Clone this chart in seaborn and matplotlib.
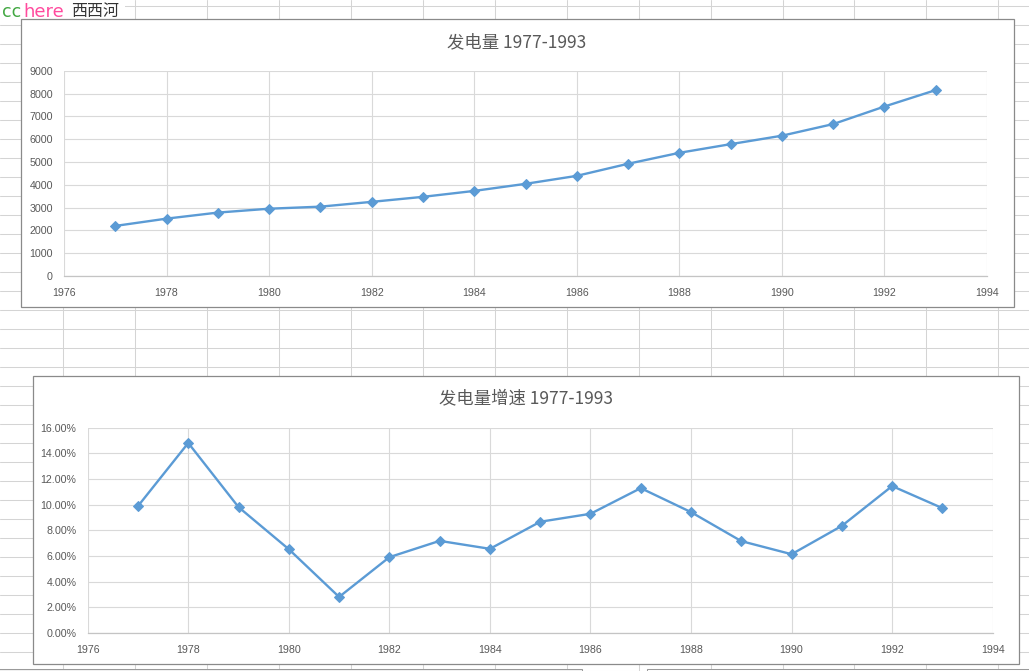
import matplotlib
matplotlib.use("Agg")
import matplotlib.pyplot as plt
import seaborn as sns
import pandas as pd
import numpy as np
from matplotlib.lines import Line2D
from matplotlib.patches import Rectangle
from matplotlib.ticker import FuncFormatter, MultipleLocator

# ---------------- data ----------------
years = [1977, 1978, 1979, 1980, 1981, 1982, 1983, 1984, 1985,
         1986, 1987, 1988, 1989, 1990, 1991, 1992, 1993]
output = [2195, 2515, 2780, 2950, 3040, 3250, 3470, 3730, 4040,
          4390, 4920, 5400, 5780, 6150, 6660, 7430, 8150]
growth = [0.0989, 0.1481, 0.0981, 0.0653, 0.0281, 0.0591, 0.0718, 0.0656, 0.0867,
          0.0929, 0.1129, 0.0942, 0.0716, 0.0614, 0.0835, 0.1145, 0.0973]
title1 = "发电量 1977-1993"
title2 = "发电量增速 1977-1993"
x_ticks = [1976, 1978, 1980, 1982, 1984, 1986, 1988, 1990, 1992, 1994]
header = ["cc", "here", "西西河"]

df1 = pd.DataFrame({"year": years, "value": output})
df2 = pd.DataFrame({"year": years, "value": growth})

sns.set_theme(style="white")
plt.rcParams["font.family"] = ["Liberation Sans", "Noto Sans CJK SC", "DejaVu Sans"]

W, H = 1029, 671
fig = plt.figure(figsize=(W / 100, H / 100), dpi=100)
fig.patch.set_facecolor("white")


def fx(px):
    return px / W


def fy(py):
    return 1 - py / H


# ---------------- spreadsheet background ----------------
cell_col = "#d4d4d4"
for k in range(14):
    x = 63 + 71.95 * k
    fig.add_artist(Line2D([fx(x), fx(x)], [0, 1], color=cell_col, lw=0.75, zorder=0))
for k in range(36):
    y = 6 + 19 * k
    fig.add_artist(Line2D([0, 1], [fy(y), fy(y)], color=cell_col, lw=0.75, zorder=0))

# header text box
fig.add_artist(Rectangle((0, fy(19)), fx(125), fy(0) - fy(19), facecolor="white",
                         edgecolor="none", zorder=1))
fig.text(fx(2), fy(12), header[0], color="#43a843", fontsize=12.5,
         family="DejaVu Sans", va="center", ha="left", zorder=2)
fig.text(fx(23), fy(12), header[1], color="#ff4b9e", fontsize=13,
         family="DejaVu Sans", va="center", ha="left", zorder=2)
fig.text(fx(71), fy(11.5), header[2], color="#333333", fontsize=11.5,
         family="Noto Sans CJK SC", fontweight="medium", va="center", ha="left", zorder=2)

# bottom partial boxes (tops of other charts)
fig.add_artist(Rectangle((fx(-2), fy(676)), fx(584), fy(668.5) - fy(676),
                         facecolor="#f2f2f2", edgecolor="#9a9a9a", lw=0.75, zorder=1))
fig.add_artist(Rectangle((fx(647), fy(676)), fx(390), fy(668.5) - fy(676),
                         facecolor="white", edgecolor="#9a9a9a", lw=0.75, zorder=1))

# chart boxes
box_edge = "#8a8a8a"
fig.add_artist(Rectangle((fx(21), fy(307)), fx(1014 - 21), fy(19) - fy(307),
                         facecolor="white", edgecolor=box_edge, lw=0.9, zorder=1))
fig.add_artist(Rectangle((fx(33), fy(664)), fx(1019 - 33), fy(376) - fy(664),
                         facecolor="white", edgecolor=box_edge, lw=0.9, zorder=1))

line_col = "#5b9bd5"
grid_col = "#d9d9d9"
text_col = "#595959"


def style_ax(ax):
    ax.set_facecolor("none")
    ax.set_xlim(1976, 1994)
    ax.set_xticks(x_ticks)
    ax.set_xticklabels([str(t) for t in x_ticks])
    ax.grid(True, color=grid_col, lw=0.8)
    ax.set_axisbelow(True)
    for s in ["top", "right", "left"]:
        ax.spines[s].set_visible(False)
    ax.spines["bottom"].set_color("#c4c4c4")
    ax.spines["bottom"].set_linewidth(0.9)
    ax.tick_params(axis="both", length=0, labelsize=7.7, labelcolor=text_col)
    ax.tick_params(axis="x", pad=8.5)
    ax.tick_params(axis="y", pad=8)
    ax.set_xlabel("")
    ax.set_ylabel("")


# ---------------- chart 1 ----------------
ax1 = fig.add_axes([fx(64), fy(276), fx(987 - 64), fy(70.7) - fy(276)], zorder=3)
sns.lineplot(data=df1, x="year", y="value", ax=ax1, color=line_col, lw=1.7,
             marker="D", markersize=4.8, markeredgecolor=line_col, markerfacecolor=line_col)
ax1.set_ylim(0, 9000)
ax1.yaxis.set_major_locator(MultipleLocator(1000))
style_ax(ax1)
fig.text(fx(517), fy(42), title1, ha="center", va="center", fontsize=12.5,
         color=text_col, family=["Noto Sans CJK SC", "DejaVu Sans"], zorder=4)

# ---------------- chart 2 ----------------
ax2 = fig.add_axes([fx(87.7), fy(633), fx(992.7 - 87.7), fy(427.7) - fy(633)], zorder=3)
sns.lineplot(data=df2, x="year", y="value", ax=ax2, color=line_col, lw=1.7,
             marker="D", markersize=4.8, markeredgecolor=line_col, markerfacecolor=line_col)
ax2.set_ylim(0, 0.16)
ax2.yaxis.set_major_locator(MultipleLocator(0.02))
ax2.yaxis.set_major_formatter(FuncFormatter(lambda v, p: f"{v * 100:.2f}%"))
style_ax(ax2)
fig.text(fx(526), fy(398.5), title2, ha="center", va="center", fontsize=12.5,
         color=text_col, family=["Noto Sans CJK SC", "DejaVu Sans"], zorder=4)

fig.savefig("out.png", dpi=100, facecolor="white")
